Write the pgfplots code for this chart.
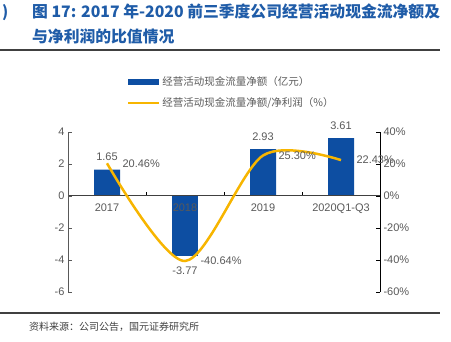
\documentclass[border=0pt]{standalone}
\usepackage{pgfplots}
\pgfplotsset{compat=1.18}
\usepackage{fontspec}
\setmainfont{Liberation Sans}
\newfontfamily\cjk{Noto Sans CJK SC}
\definecolor{barblue}{HTML}{0D4EA2}
\definecolor{linegold}{HTML}{F7B500}
\definecolor{titleblue}{HTML}{1F5CA8}
\definecolor{tickgray}{HTML}{595959}
\definecolor{rulegray}{HTML}{404040}
\begin{document}
\begin{tikzpicture}[x=1pt,y=1pt]
\useasboundingbox (0,0) rectangle (451,342);
% title
\node[anchor=base west, inner sep=0, text=titleblue, font=\cjk\bfseries\fontsize{15.5}{18}\selectfont] at (2,324.5) {)};
\node[anchor=base west, inner sep=0, text=titleblue, font=\cjk\bfseries\fontsize{15.8}{18}\selectfont] at (32,324.5) {图 17: 2017 年-2020 前三季度公司经营活动现金流净额及};
\node[anchor=base west, inner sep=0, text=titleblue, font=\cjk\bfseries\fontsize{15.8}{18}\selectfont] at (32,299.5) {与净利润的比值情况};
\draw[rulegray, line width=2pt] (0,292) -- (440,292);
\draw[rulegray, line width=1.5pt] (0,29) -- (440,29);
\node[anchor=west, inner sep=0, text=rulegray, font=\cjk\fontsize{10}{12}\selectfont] at (29,15) {资料来源：公司公告，国元证券研究所};

\begin{axis}[
  at={(68pt,50pt)}, anchor=south west, scale only axis,
  width=312pt, height=160pt,
  xmin=-0.5, xmax=3.5, ymin=-6, ymax=4,
  axis y line*=left, axis x line*=middle,
  axis on top,
  tick align=inside, major tick length=4pt,
  xtick={0.5,1.5,2.5}, xticklabels={},
  extra x ticks={0,1,2,3},
  extra x tick labels={2017,2018,2019,2020Q1-Q3},
  extra x tick style={major tick length=0pt, tick label style={yshift=-4pt}},
  ytick={-6,-4,...,4},
  /pgf/number format/assume math mode=true,
  tick label style={font=\fontsize{11}{13}\selectfont, text=tickgray},
  y axis line style={tickgray, line width=1pt},
  x axis line style={rulegray, line width=1pt},
  tick style={black, line width=0.8pt},
  ytick style={tickgray},
  legend style={at={(0.18,1.37)}, anchor=north west, draw=none, fill=none,
    font=\cjk\fontsize{10.5}{12}\selectfont, text=tickgray, row sep=6pt},
  legend cell align=left,
  clip=false,
]
\addplot[ybar, bar shift=0pt, bar width=26pt, fill=barblue, draw=none,
  nodes near coords={\pgfmathprintnumber[fixed,precision=2,fixed zerofill]{\pgfplotspointmeta}},
  every node near coord/.append style={anchor=south, yshift=5pt, text=tickgray, font=\fontsize{11}{13}\selectfont},
  legend image code/.code={\fill[barblue] (0pt,-3pt) rectangle (31pt,3pt);}]
  coordinates {(0,1.65) (2,2.93) (3,3.61)};
\addlegendentry{经营活动现金流量净额（亿元）}
\addplot[ybar, bar shift=0pt, bar width=26pt, fill=barblue, draw=none, forget plot,
  nodes near coords={\pgfmathprintnumber[fixed,precision=2,fixed zerofill]{\pgfplotspointmeta}},
  every node near coord/.append style={anchor=north, yshift=-7pt, text=tickgray, font=\fontsize{11}{13}\selectfont}]
  coordinates {(1,-3.77)};
\addlegendimage{linegold, line width=2pt, legend image code/.code={\draw (0pt,0pt) -- (31pt,0pt);}}
\addlegendentry{经营活动现金流量净额/净利润（\%）}
\end{axis}

\begin{axis}[
  at={(68pt,50pt)}, anchor=south west, scale only axis,
  width=312pt, height=160pt,
  xmin=-0.5, xmax=3.5, ymin=-60, ymax=40,
  axis y line*=right, axis x line=none,
  tick align=inside, major tick length=4pt,
  ytick={-60,-40,...,40},
  yticklabel={\pgfmathprintnumber{\tick}\%},
  /pgf/number format/assume math mode=true,
  tick label style={font=\fontsize{11}{13}\selectfont, text=tickgray},
  y axis line style={black, line width=1pt},
  tick style={black, line width=0.8pt},
  clip=false,
]
\addplot[linegold, line width=2.5pt, smooth,
  nodes near coords={\pgfmathprintnumber[fixed,precision=2,fixed zerofill]{\pgfplotspointmeta}\%},
  every node near coord/.append style={anchor=west, xshift=11pt, text=tickgray, font=\fontsize{11}{13}\selectfont}]
  coordinates {(0,20.46) (1,-40.64) (2,25.30) (3,22.43)};
\end{axis}
\end{tikzpicture}
\end{document}
